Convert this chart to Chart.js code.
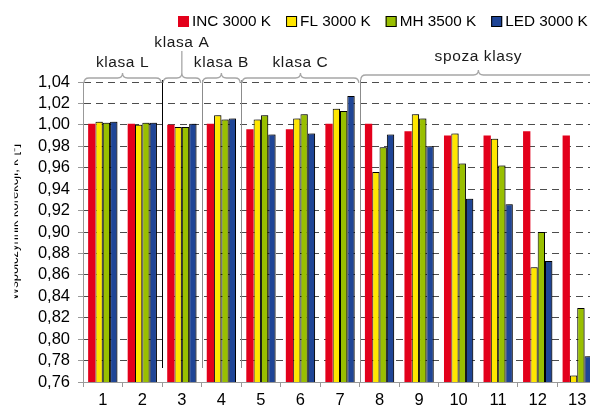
<!DOCTYPE html>
<html>
<head>
<meta charset="utf-8">
<script src="https://cdn.jsdelivr.net/npm/chart.js@4"></script>
<style>
  html, body { margin: 0; padding: 0; overflow: hidden; background: #fff; }
  #wrap { width: 600px; height: 411px; }
</style>
</head>
<body>
<div id="wrap"><canvas id="chart" width="600" height="411"></canvas></div>
<script>
// dane
const categories = ['1', '2', '3', '4', '5', '6', '7', '8', '9', '10', '11', '12', '13'];
const incValues = [1.001, 1.001, 1.000, 1.001, 0.996, 0.996, 1.001, 1.001, 0.994, 0.990, 0.990, 0.994, 0.990];
const flValues  = [1.003, 1.000, 0.998, 1.009, 1.005, 1.006, 1.015, 0.956, 1.010, 0.992, 0.987, 0.867, 0.766];
const mhValues  = [1.002, 1.002, 0.998, 1.005, 1.009, 1.010, 1.013, 0.979, 1.006, 0.964, 0.962, 0.900, 0.829];
const ledValues = [1.003, 1.002, 1.001, 1.006, 0.991, 0.992, 1.027, 0.991, 0.980, 0.931, 0.926, 0.873, 0.784];
const seriesNames = ['INC 3000 K', 'FL 3000 K', 'MH 3500 K', 'LED 3000 K'];
const yMin = 0.76, yMax = 1.04, yStep = 0.02;
const yTitle = 'Współczynnik korekcji, k [-]';
// grupy klas: indeksy kategorii od-do
const groupLabels = ['klasa L', 'klasa A', 'klasa B', 'klasa C', 'spoza klasy'];
const groupFrom = [0, 2, 3, 4, 7];
const groupTo   = [1, 2, 3, 6, 12];

const colors = ['#e3001b', '#ffe600', '#99bf00', '#1f4596'];
const FONT = 'Arial, "Liberation Sans", sans-serif';

// cień słupków (jak w Excelu)
const barShadow = {
  id: 'barShadow',
  beforeDatasetDraw(chart, args) {
    const ctx = chart.ctx;
    ctx.save();
    if (args.index > 0) {
      ctx.shadowColor = 'rgba(0,0,0,0.35)';
      ctx.shadowBlur = 2;
      ctx.shadowOffsetX = 2;
      ctx.shadowOffsetY = -1;
    }
  },
  afterDatasetDraw(chart) {
    chart.ctx.restore();
  }
};

// klamry, linie podziału, legenda, tytuł osi
const extras = {
  id: 'extras',
  afterDraw(chart) {
    const ctx = chart.ctx;
    const x = chart.scales.x;
    const area = chart.chartArea;
    const band = (x.right - x.left) / categories.length;
    const leftOf = i => x.getPixelForValue(i) - band / 2;
    const rightOf = i => Math.min(x.getPixelForValue(i) + band / 2, area.right);

    // linie podziału
    ctx.save();
    ctx.lineWidth = 1;
    const seps = [[2, '#000', 368], [3, '#8c8c8c', 368], [4, '#8c8c8c', 368], [7, '#8c8c8c', 382]];
    seps.forEach(s => {
      const px = Math.round(leftOf(s[0])) + 0.5;
      ctx.strokeStyle = s[1];
      ctx.beginPath();
      ctx.moveTo(px, 80);
      ctx.lineTo(px, s[2]);
      ctx.stroke();
    });
    ctx.restore();

    // klamry
    ctx.save();
    ctx.strokeStyle = '#a6a6a6';
    ctx.lineWidth = 1.3;
    ctx.fillStyle = '#1a1a1a';
    ctx.font = '15.5px ' + FONT;
    ctx.letterSpacing = '0.6px';
    ctx.textAlign = 'center';
    ctx.textBaseline = 'middle';
    groupLabels.forEach((lab, g) => {
      const x1 = leftOf(groupFrom[g]) + 1;
      const x2 = rightOf(groupTo[g]) - 1;
      const mid = (x1 + x2) / 2;
      const spoza = g === 4;
      const yFlat = spoza ? 75 : 78;
      const yEnd = yFlat + 5;
      const yTip = yFlat - 5;
      ctx.beginPath();
      ctx.moveTo(x1, yEnd);
      ctx.quadraticCurveTo(x1, yFlat, x1 + 5, yFlat);
      ctx.lineTo(mid - 5, yFlat);
      ctx.quadraticCurveTo(mid, yFlat, mid, yTip);
      ctx.quadraticCurveTo(mid, yFlat, mid + 5, yFlat);
      ctx.lineTo(x2 - 5, yFlat);
      ctx.quadraticCurveTo(x2, yFlat, x2, yEnd);
      ctx.stroke();
      let ly = 63;
      if (g === 1) {
        ctx.beginPath();
        ctx.moveTo(mid, yTip);
        ctx.lineTo(mid, 51);
        ctx.stroke();
        ly = 43;
      }
      if (spoza) ly = 57;
      ctx.fillText(lab, mid, ly);
    });
    ctx.restore();

    // legenda
    ctx.save();
    ctx.font = '15.3px ' + FONT;
    ctx.textBaseline = 'middle';
    ctx.textAlign = 'left';
    let lx = 178;
    chart.data.datasets.forEach((ds, i) => {
      ctx.fillStyle = ds.backgroundColor;
      ctx.fillRect(lx, 16, 11, 11);
      if (i > 0) {
        ctx.strokeStyle = '#000';
        ctx.lineWidth = 1;
        ctx.strokeRect(lx + 0.5, 16.5, 10, 10);
      }
      ctx.fillStyle = '#000';
      const tx = lx + 14;
      ctx.fillText(ds.label, tx, 22);
      lx = tx + ctx.measureText(ds.label).width + 15;
    });
    ctx.restore();

    // tytuł osi Y (obcięty jak w oryginale)
    ctx.save();
    ctx.beginPath();
    ctx.rect(14.5, 0, 20, 411);
    ctx.clip();
    ctx.translate(18, 222);
    ctx.rotate(-Math.PI / 2);
    ctx.font = '13px ' + FONT;
    ctx.fillStyle = '#000';
    ctx.textAlign = 'center';
    ctx.textBaseline = 'alphabetic';
    ctx.fillText(yTitle, 0, 0);
    ctx.restore();
  }
};

const ctx = document.getElementById('chart').getContext('2d');
const chart = new Chart(ctx, {
  type: 'bar',
  data: {
    labels: categories,
    datasets: [
      { label: seriesNames[0], data: incValues, backgroundColor: colors[0], borderWidth: 0 },
      { label: seriesNames[1], data: flValues, backgroundColor: colors[1], borderColor: '#000', borderWidth: 1 },
      { label: seriesNames[2], data: mhValues, backgroundColor: colors[2], borderColor: '#000', borderWidth: 1 },
      { label: seriesNames[3], data: ledValues, backgroundColor: colors[3], borderColor: '#000', borderWidth: 1 }
    ]
  },
  options: {
    responsive: false,
    animation: false,
    devicePixelRatio: 1,
    layout: { padding: { top: 82, right: 3, left: 0, bottom: 0 } },
    datasets: {
      bar: { categoryPercentage: 0.74, barPercentage: 1.0 }
    },
    plugins: {
      legend: { display: false },
      tooltip: { enabled: false }
    },
    scales: {
      x: {
        afterFit: s => { s.height = 29; },
        grid: {
          offset: true,
          drawOnChartArea: false,
          tickLength: 5,
          tickColor: '#999'
        },
        border: { color: '#999', width: 1 },
        ticks: {
          color: '#000',
          padding: 4,
          autoSkip: false,
          maxRotation: 0,
          font: { family: FONT, size: 16.5 }
        }
      },
      y: {
        min: yMin,
        max: yMax,
        afterFit: s => { s.width = 83; },
        grid: {
          color: c => (c.tick && Math.abs(c.tick.value - yMin) < 1e-6) ? 'rgba(0,0,0,0)' : '#4d4d4d',
          tickColor: '#999',
          tickLength: 5
        },
        border: { color: '#999', width: 1, dash: [7, 5] },
        ticks: {
          stepSize: yStep,
          autoSkip: false,
          color: '#000',
          padding: 8,
          font: { family: FONT, size: 16.5 },
          callback: v => v.toFixed(2).replace('.', ',')
        }
      }
    }
  },
  plugins: [barShadow, extras]
});
</script>
</body>
</html>
